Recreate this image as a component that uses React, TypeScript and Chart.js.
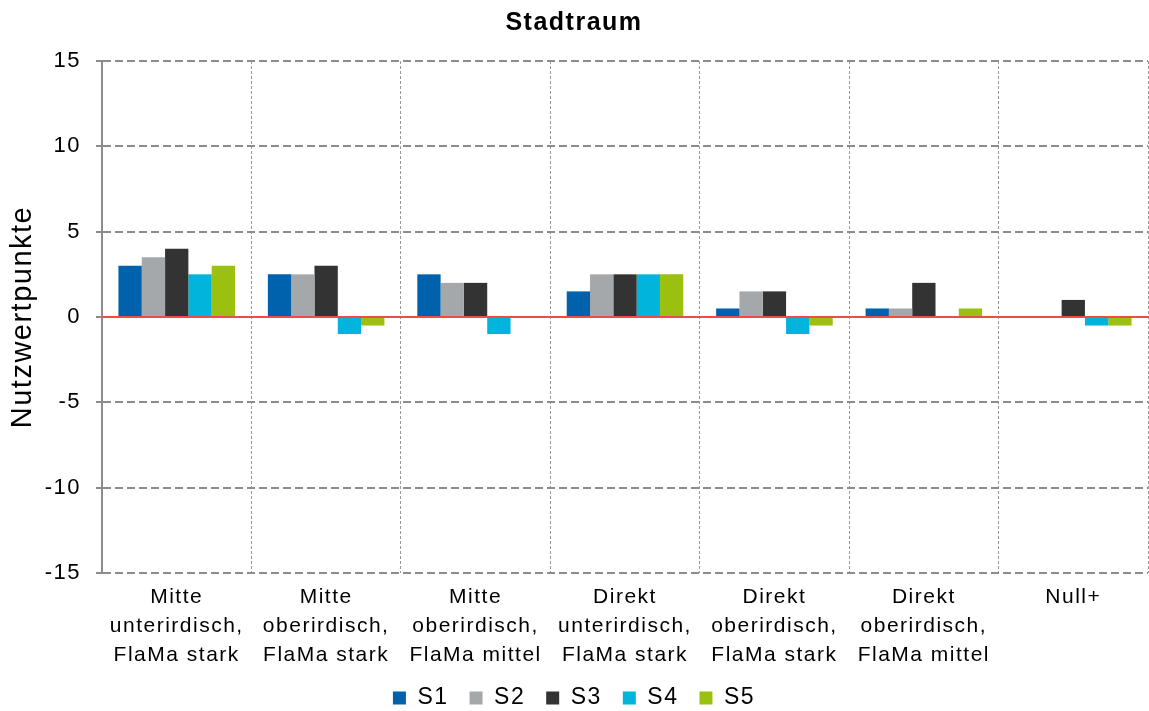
import React, { useEffect, useRef } from "react";
import { Chart, registerables } from "chart.js";

Chart.register(...registerables);

const categories: string[][] = [
  ["Mitte", "unterirdisch,", "FlaMa stark"],
  ["Mitte", "oberirdisch,", "FlaMa stark"],
  ["Mitte", "oberirdisch,", "FlaMa mittel"],
  ["Direkt", "unterirdisch,", "FlaMa stark"],
  ["Direkt", "oberirdisch,", "FlaMa stark"],
  ["Direkt", "oberirdisch,", "FlaMa mittel"],
  ["Null+"],
];

const seriesNames = ["S1", "S2", "S3", "S4", "S5"];
const seriesColors = ["#0062AC", "#A5A8AB", "#333333", "#00B4DC", "#9BC00F"];

const s1 = [3, 2.5, 2.5, 1.5, 0.5, 0.5, 0];
const s2 = [3.5, 2.5, 2, 2.5, 1.5, 0.5, 0];
const s3 = [4, 3, 2, 2.5, 1.5, 2, 1];
const s4 = [2.5, -1, -1, 2.5, -1, 0, -0.5];
const s5 = [3, -0.5, 0, 2.5, -0.5, 0.5, -0.5];

const yMin = -15;
const yMax = 15;
const yStep = 5;

// slightly wider text spacing for all labels drawn on the canvas
const textSpacing = {
  id: "textSpacing",
  beforeLayout(chart: any) {
    chart.ctx.letterSpacing = "1.5px";
  },
  beforeDraw(chart: any) {
    chart.ctx.letterSpacing = "1.5px";
  },
};

// solid red line along the value 0
const zeroLine = {
  id: "zeroLine",
  afterDatasetsDraw(chart: any) {
    const { ctx, chartArea, scales } = chart;
    const y = Math.round(scales.y.getPixelForValue(0));
    ctx.save();
    ctx.strokeStyle = "#EE4B4B";
    ctx.lineWidth = 2;
    ctx.beginPath();
    ctx.moveTo(chartArea.left, y);
    ctx.lineTo(chartArea.right + 1, y);
    ctx.stroke();
    ctx.restore();
  },
};

export default function App() {
  const ref = useRef<HTMLCanvasElement>(null);

  useEffect(() => {
    if (!ref.current) return;
    const values = [s1, s2, s3, s4, s5];
    const font = "'Liberation Sans', Arial, sans-serif";
    const chart = new Chart(ref.current, {
      type: "bar",
      data: {
        labels: categories,
        datasets: values.map((v, i) => ({
          label: seriesNames[i],
          data: v,
          backgroundColor: seriesColors[i],
          borderWidth: 0,
          categoryPercentage: 0.78,
          barPercentage: 1,
        })),
      },
      options: {
        animation: false,
        responsive: false,
        maintainAspectRatio: false,
        layout: { padding: { left: 0, right: 1, top: 0, bottom: -8.5 } },
        plugins: {
          title: {
            display: true,
            text: "Stadtraum",
            color: "#000",
            font: { family: font, size: 25, weight: "bold", lineHeight: 1.2 },
            padding: { top: 8, bottom: 23 },
          },
          legend: {
            position: "bottom",
            labels: {
              color: "#000",
              boxWidth: 13,
              boxHeight: 13,
              padding: 21,
              font: { family: font, size: 23 },
            },
          },
          tooltip: { enabled: false },
        },
        scales: {
          x: {
            afterFit: (scale: any) => {
              scale.height = 92.5;
            },
            grid: {
              display: true,
              offset: true,
              // boundary lines between categories; none at the right edge
              color: (c: any) => (c.index >= categories.length ? "rgba(0,0,0,0)" : "#9A9A9A"),
              lineWidth: 1,
              drawTicks: false,
            },
            border: { display: false, dash: [3, 2] },
            ticks: {
              color: "#000",
              padding: 10,
              maxRotation: 0,
              minRotation: 0,
              autoSkip: false,
              font: { family: font, size: 21, lineHeight: 1.38 },
            },
          },
          y: {
            min: yMin,
            max: yMax,
            afterFit: (scale: any) => {
              scale.width = 102;
            },
            ticks: {
              stepSize: yStep,
              color: "#000",
              padding: 15,
              font: { family: font, size: 22 },
            },
            grid: {
              color: "#8C8C8C",
              lineWidth: 2,
              tickLength: 6,
              tickBorderDash: [],
              tickWidth: 2,
            },
            border: { display: true, color: "#8C8C8C", width: 2, dash: [8, 4] },
            title: {
              display: true,
              text: "Nutzwertpunkte",
              color: "#000",
              font: { family: font, size: 29, lineHeight: 1.2 },
              padding: { top: 6, bottom: 0 },
            },
          },
        },
      },
      plugins: [textSpacing, zeroLine],
    });
    return () => chart.destroy();
  }, []);

  return (
    <div style={{ position: "fixed", left: 0, top: 0, width: 1149, height: 711, background: "#fff" }}>
      <canvas ref={ref} width={1149} height={711} style={{ display: "block" }} />
    </div>
  );
}
